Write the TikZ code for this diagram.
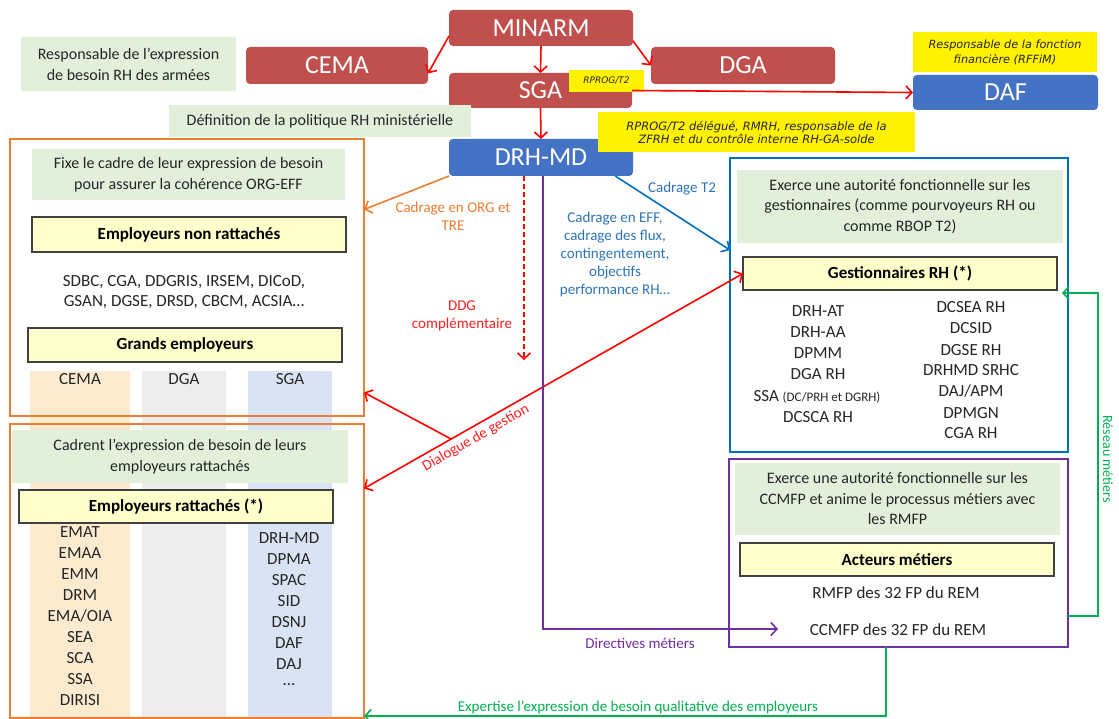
\documentclass[tikz,border=0pt]{standalone}
\usepackage{fontspec}
\setmainfont{Carlito}
\newfontfamily\notefont{DejaVu Sans}
\usetikzlibrary{arrows.meta,calc}
\definecolor{boxred}{HTML}{C0504D}
\definecolor{boxblue}{HTML}{4472C4}
\definecolor{lgreen}{HTML}{E2EFDA}
\definecolor{lyellow}{HTML}{FFFFCC}
\definecolor{hborder}{HTML}{404040}
\definecolor{orangeline}{HTML}{ED7D31}
\definecolor{frameblue}{HTML}{0070C0}
\definecolor{purp}{HTML}{7030A0}
\definecolor{grn}{HTML}{00B050}
\definecolor{txt}{HTML}{262626}
\definecolor{colcema}{HTML}{FCEBCF}
\definecolor{coldga}{HTML}{EDEDED}
\definecolor{colsga}{HTML}{DAE3F3}
\definecolor{labblue}{HTML}{2E75B6}
\definecolor{labred}{HTML}{FF2020}
\newcommand\fs[2]{\fontsize{#1}{#2}\selectfont}
\tikzset{barb/.tip={Straight Barb[length=6pt,width=13pt]}}
\begin{document}
\begin{tikzpicture}[x=1pt,y=-1pt,
  base/.style={inner sep=0pt,outer sep=0pt},
  titlebox/.style={base,rounded corners=4pt,text=white,font=\fs{26}{30}},
  redbox/.style={titlebox,fill=boxred},
  bluebox/.style={titlebox,fill=boxblue},
  greenbox/.style={base,fill=lgreen,align=center,text=txt,font=\fs{16}{21}},
  headbox/.style={base,fill=lyellow,draw=hborder,line width=1.2pt,text=black,font=\bfseries\fs{17}{20}},
  note/.style={base,fill=yellow,align=center,text=black!85,font=\notefont\itshape\fs{11.5}{13}},
  frame/.style={base,line width=2pt},
  colbg/.style={base},
  item/.style={base,text=txt,font=\fs{17}{21},align=center},
  lab/.style={base,align=center,font=\fs{15}{18}},
  arr/.style={line width=1.6pt,-barb},
]
\useasboundingbox (0,0) rectangle (1119,719);
\fill[white] (0,0) rectangle (1119,719);

% ---- top boxes
\node[redbox,minimum width=184,minimum height=36] (minarm) at (541,28) {MINARM};
\node[redbox,minimum width=182,minimum height=37] (cema) at (337,65.5) {CEMA};
\node[redbox,minimum width=184,minimum height=37] (dga) at (743,65.5) {DGA};
\node[redbox,minimum width=183,minimum height=35] (sga) at (540.5,90.5) {SGA};
\node[bluebox,minimum width=184,minimum height=37] (drhmd) at (541,157.5) {DRH-MD};
\node[bluebox,minimum width=185,minimum height=35] (daf) at (1005.5,92.5) {DAF};

\node[greenbox,minimum width=215,minimum height=54] (g1) at (128.5,64) {Responsable de l’expression\\de besoin RH des armées};
\node[greenbox,minimum width=302,minimum height=32] (g2) at (320,121) {Définition de la politique RH ministérielle};
\node[note,font=\notefont\itshape\fs{9}{10},minimum width=75,minimum height=22] (n1) at (606.5,81) {RPROG/T2};
\node[note,font=\notefont\itshape\fs{11.3}{15},minimum width=184,minimum height=40] (n2) at (1005,52) {Responsable de la fonction\\financière (RFFiM)};
\node[note,minimum width=317,minimum height=40] (n3) at (756.5,132) {RPROG/T2 délégué, RMRH, responsable de la\\ZFRH et du contrôle interne RH-GA-solde};

\draw[arr,red] (minarm.185) -- (cema.-5);
\draw[arr,red] (minarm.-8) -- (dga.west);
\draw[arr,red] (minarm.south) -- (sga.north);
\draw[arr,red] (sga.south) -- (drhmd.north);
\draw[arr,red] (sga.east) -- (daf.west);

% ---- columns
\node[colbg,fill=colcema,minimum width=100,minimum height=346] (ccol) at (80,544) {};
\node[colbg,fill=coldga,minimum width=84,minimum height=346] (dcol) at (184,544) {};
\node[colbg,fill=colsga,minimum width=84,minimum height=346] (scol) at (290,544) {};

% ---- left box 1
\node[frame,draw=orangeline,minimum width=354,minimum height=277] (box1) at (187,277.5) {};
\node[greenbox,minimum width=313,minimum height=51] (g3) at (188.5,174.5) {Fixe le cadre de leur expression de besoin\\pour assurer la cohérence ORG-EFF};
\node[headbox,minimum width=314,minimum height=35] (h1) at (189,234.5) {Employeurs non rattachés};
\node[item,font=\fs{17}{19.5}] (l1) at (184,292) {SDBC, CGA, DDGRIS, IRSEM, DICoD,\\GSAN, DGSE, DRSD, CBCM, ACSIA…};
\node[headbox,minimum width=314,minimum height=34] (h2) at (185,345) {Grands employeurs};
\node[item] (tc) at (80,379) {CEMA};
\node[item] (td) at (184,379) {DGA};
\node[item] (ts) at (290,379) {SGA};

% ---- left box 2
\node[frame,draw=orangeline,minimum width=354,minimum height=294] (box2) at (187,571) {};
\node[greenbox,minimum width=336,minimum height=53] (g4) at (180,456.5) {Cadrent l’expression de besoin de leurs\\employeurs rattachés};
\node[headbox,minimum width=314,minimum height=33] (h3) at (176,506.5) {Employeurs rattachés (*)};
\foreach \t [count=\i] in {EMAT,EMAA,EMM,DRM,EMA/OIA,SEA,SCA,SSA,DIRISI}
  \node[item] (ce\i) at (80,{511+21*\i}) {\t};
\foreach \t [count=\i] in {DRH-MD,DPMA,SPAC,SID,DSNJ,DAF,DAJ,…}
  \node[item] (sg\i) at (289,{517+21*\i}) {\t};

% ---- right box (gestionnaires)
\node[frame,draw=frameblue,minimum width=338,minimum height=294] (gframe) at (899,305) {};
\node[greenbox,minimum width=326,minimum height=73,font=\fs{16}{20.5}] (g5) at (900,206.5) {Exerce une autorité fonctionnelle sur les\\gestionnaires (comme pourvoyeurs RH ou\\comme RBOP T2)};
\node[headbox,minimum width=314,minimum height=33] (gest) at (900,273.5) {Gestionnaires RH (*)};
\node[item] (ga1) at (818,311) {DRH-AT};
\node[item] (ga2) at (818,332) {DRH-AA};
\node[item] (ga3) at (818,353) {DPMM};
\node[item] (ga4) at (818,374) {DGA RH};
\node[item] (ga5) at (817,397) {SSA {\fs{13}{15}(DC/PRH et DGRH)}};
\node[item] (ga6) at (818,417) {DCSCA RH};
\node[item] (gb1) at (971,307) {DCSEA RH};
\node[item] (gb2) at (971,328) {DCSID};
\node[item] (gb3) at (971,350) {DGSE RH};
\node[item] (gb4) at (971,370) {DRHMD SRHC};
\node[item] (gb5) at (971,391) {DAJ/APM};
\node[item] (gb6) at (971,413) {DPMGN};
\node[item] (gb7) at (971,433) {CGA RH};

% ---- purple box
\node[frame,draw=purp,minimum width=339,minimum height=188] (pframe) at (898.5,553) {};
\node[greenbox,minimum width=325,minimum height=72,font=\fs{16}{20.5}] (g6) at (897.5,499) {Exerce une autorité fonctionnelle sur les\\CCMFP et anime le processus métiers avec\\les RMFP};
\node[headbox,minimum width=314,minimum height=33] (act) at (897,559.5) {Acteurs métiers};
\node[item] (rmfp) at (896,593) {RMFP des 32 FP du REM};
\node[item] (ccmfp) at (898,630) {CCMFP des 32 FP du REM};

% ---- connectors from DRH-MD
\draw[arr,orangeline] (drhmd.south west) -- (box1.21);
\node[lab,text=orangeline] (lorg) at (453,216) {Cadrage en ORG et\\TRE};
\coordinate (ddg) at (524,360);
\draw[arr,red,dashed,dash pattern=on 5pt off 3pt] (drhmd.south -| ddg) -- (ddg);
\node[lab,text=labred] (lddg) at (462,316) {DDG\\complémentaire};
\draw[arr,frameblue] (drhmd.-14) -- (gframe.162);
\node[lab,text=labblue] (lt2) at (682,189) {Cadrage T2};
\node[lab,text=labblue] (leff) at (615,255) {Cadrage en EFF,\\cadrage des flux,\\contingentement,\\objectifs\\performance RH…};

% dialogue de gestion
\coordinate (dj) at ($(box2.25)!0.23!(gest.west)$);
\draw[line width=1.6pt,red,barb-barb] (box2.25) -- (gest.west);
\draw[arr,red] (dj) -- (box1.-33);
\path (box2.25) -- (gest.west) node[lab,text=labred,pos=0.28,sloped,below=5pt] (ldg) {Dialogue de gestion};

% directives metiers
\coordinate (pc) at (543,629);
\coordinate (ptip) at (778,629);
\draw[arr,purp] (drhmd.south -| pc) -- (pc) -- (ptip);
\node[lab,text=purp] (ldir) at (640,643) {Directives métiers};

% reseau metiers
\coordinate (r1) at (1098,616);
\coordinate (rtip) at (1062,293);
\draw[arr,grn] (r1 -| pframe.east) -- (r1) -- (r1 |- rtip) -- (rtip);
\node[lab,text=grn,rotate=-90,font=\fs{14}{16}] (lres) at (1108,459) {Réseau métiers};

% expertise
\coordinate (e1) at (886,716);
\draw[arr,grn] (e1 |- pframe.south) -- (e1) -- (box2.east |- e1);
\node[lab,text=grn] (lexp) at (638,707) {Expertise l’expression de besoin qualitative des employeurs};
\end{tikzpicture}
\end{document}
